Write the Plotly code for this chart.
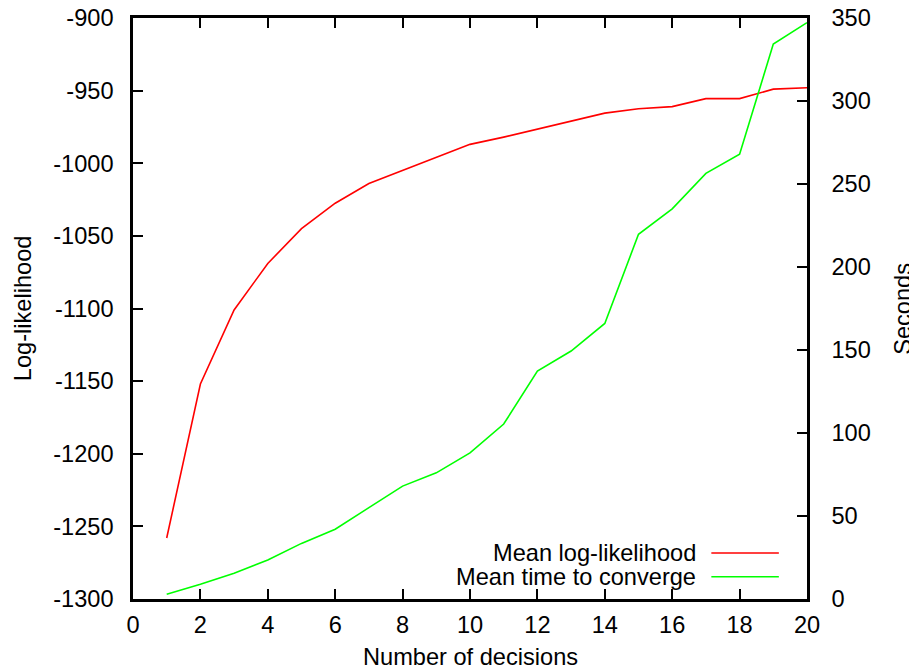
import plotly.graph_objects as go

decisions = list(range(1, 21))
loglik = [-1258, -1152, -1101, -1069, -1045, -1027.5, -1014, -1005, -996.5, -987,
          -982, -976.5, -971, -965.5, -962.5, -961, -955.5, -955.5, -949, -948]
seconds = [2.8, 8.9, 15.5, 23.5, 33.5, 42, 55, 68, 76, 88,
           105.4, 137.3, 149.4, 166, 219.7, 235, 256.4, 267.9, 334.3, 347.2]
series_names = ["Mean log-likelihood", "Mean time to converge"]
series_colors = ["#ff0000", "#00ff00"]

x_ticks = list(range(0, 21, 2))
left_ticks = list(range(-1300, -899, 50))
left_tick_labels = ["-1300", "-1250", "-1200", "-1150", "-1100", "-1050", "-1000", "-950", "-900"]
right_ticks = list(range(0, 351, 50))

FONT = "Liberation Sans, Arial, sans-serif"
FS = 23.6

# page body has an 8px margin; work in window coordinates and convert
OFF = 8
W, H = 917 - OFF, 670 - OFF
PL, PR, PT, PB = 132.5, 807.5, 18, 599   # plot-area edges in window pixels
L = PL - OFF
T = PT - OFF
R = W - (PR - OFF)
B = H - (PB - OFF)
PW = PR - PL
PH = PB - PT


def px(xw):
    return (xw - PL) / PW


def py(yw):
    return (PB - yw) / PH


fig = go.Figure()
fig.add_trace(go.Scatter(x=decisions, y=loglik, mode="lines", name=series_names[0],
                         line=dict(color=series_colors[0], width=1.6), yaxis="y"))
fig.add_trace(go.Scatter(x=decisions, y=seconds, mode="lines", name=series_names[1],
                         line=dict(color=series_colors[1], width=1.6), yaxis="y2"))

axis_common = dict(showgrid=False, zeroline=False, showline=True, linecolor="black",
                   linewidth=2.5, ticks="inside", ticklen=10, tickwidth=2,
                   tickcolor="black", automargin=False, ticklabeloverflow="allow",
                   tickfont=dict(family=FONT, size=FS, color="black"))

fig.update_layout(
    template="none",
    width=W, height=H,
    margin=dict(l=L, r=R, t=T, b=B, pad=0),
    paper_bgcolor="white", plot_bgcolor="white",
    showlegend=False,
    font=dict(family=FONT, size=FS, color="black"),
    xaxis=dict(range=[0, 20], tickvals=x_ticks, mirror="ticks",
               ticklabelstandoff=3, **axis_common),
    yaxis=dict(range=[-1300, -900], tickvals=left_ticks, ticktext=left_tick_labels,
               mirror=False, ticklabelstandoff=12, **axis_common),
    yaxis2=dict(range=[0, 350], tickvals=right_ticks, overlaying="y", side="right",
                anchor="x", ticklabelstandoff=17, **axis_common),
)

# axis titles
fig.add_annotation(text="Number of decisions", xref="paper", yref="paper",
                   x=0.5, y=py(657), showarrow=False,
                   font=dict(family=FONT, size=FS), yanchor="middle")
fig.add_annotation(text="Log-likelihood", xref="paper", yref="paper",
                   x=px(22), y=0.5, textangle=-90, showarrow=False,
                   font=dict(family=FONT, size=FS), xanchor="center")
fig.add_annotation(text="Seconds", xref="paper", yref="paper",
                   x=px(903), y=0.5, textangle=-90, showarrow=False,
                   font=dict(family=FONT, size=FS), xanchor="center")

# legend (text right-aligned, sample line on the right)
leg_y = [py(553), py(576.7)]
for name, color, yy in zip(series_names, series_colors, leg_y):
    fig.add_annotation(text=name, xref="paper", yref="paper", x=px(698), y=yy,
                       xanchor="right", yanchor="middle", showarrow=False,
                       font=dict(family=FONT, size=FS))
    fig.add_shape(type="line", xref="paper", yref="paper",
                  x0=px(711.7), x1=px(779.3), y0=yy, y1=yy,
                  line=dict(color=color, width=1.6))

fig.write_html("out.html")
